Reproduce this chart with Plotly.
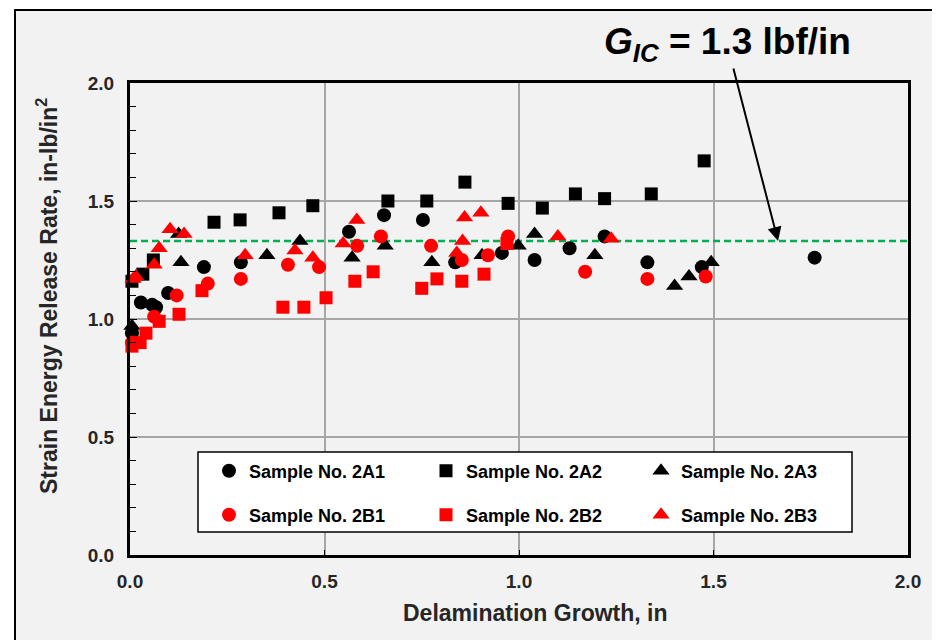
import plotly.graph_objects as go

# ---------------- data ----------------
x_2a1 = [0.005, 0.028, 0.057, 0.067, 0.098, 0.19, 0.285, 0.563, 0.653, 0.753, 0.836, 0.956, 1.04, 1.13, 1.22, 1.33, 1.47, 1.76]
y_2a1 = [0.94, 1.07, 1.06, 1.05, 1.11, 1.22, 1.24, 1.37, 1.44, 1.42, 1.24, 1.28, 1.25, 1.30, 1.35, 1.24, 1.22, 1.26]

x_2a2 = [0.005, 0.033, 0.06, 0.216, 0.283, 0.383, 0.47, 0.663, 0.763, 0.861, 0.972, 1.06, 1.145, 1.22, 1.34, 1.476]
y_2a2 = [1.16, 1.19, 1.25, 1.41, 1.42, 1.45, 1.48, 1.50, 1.50, 1.58, 1.49, 1.47, 1.53, 1.51, 1.53, 1.67]

x_2a3 = [0.005, 0.125, 0.131, 0.352, 0.437, 0.571, 0.656, 0.776, 0.905, 0.998, 1.04, 1.195, 1.40, 1.437, 1.494]
y_2a3 = [0.97, 1.36, 1.24, 1.27, 1.33, 1.26, 1.31, 1.24, 1.27, 1.31, 1.36, 1.27, 1.14, 1.18, 1.24]

x_2b1 = [0.005, 0.062, 0.12, 0.2, 0.285, 0.406, 0.486, 0.584, 0.645, 0.774, 0.853, 0.92, 0.972, 1.17, 1.33, 1.48]
y_2b1 = [0.90, 1.01, 1.10, 1.15, 1.17, 1.23, 1.22, 1.31, 1.35, 1.31, 1.25, 1.27, 1.35, 1.20, 1.17, 1.18]

x_2b2 = [0.005, 0.026, 0.041, 0.075, 0.126, 0.185, 0.393, 0.447, 0.504, 0.578, 0.625, 0.75, 0.789, 0.853, 0.91, 0.969]
y_2b2 = [0.885, 0.90, 0.94, 0.99, 1.02, 1.12, 1.05, 1.05, 1.09, 1.16, 1.20, 1.13, 1.17, 1.16, 1.19, 1.32]

x_2b3 = [0.008, 0.015, 0.062, 0.075, 0.103, 0.139, 0.296, 0.424, 0.47, 0.548, 0.583, 0.84, 0.855, 0.86, 0.902, 1.10, 1.237]
y_2b3 = [1.17, 1.18, 1.23, 1.30, 1.38, 1.36, 1.27, 1.29, 1.26, 1.32, 1.42, 1.28, 1.33, 1.43, 1.45, 1.35, 1.34]

gic_x = [0.0, 2.0]
gic_level = 1.33
gic_arrow_x = 1.666

series_names = ["Sample No. 2A1", "Sample No. 2A2", "Sample No. 2A3",
                "Sample No. 2B1", "Sample No. 2B2", "Sample No. 2B3"]
tick_vals = [0.0, 0.5, 1.0, 1.5, 2.0]

FONT = "Arial, Liberation Sans, sans-serif"
TXT = "#262626"

# the page adds an 8px body margin: work in screen pixels, convert to figure pixels
OFF = 8
W, H = 932, 632
L, R, T, B = 130 - OFF, 32, 83 - OFF, 85
pw, ph = W - L - R, H - T - B


def px_x(sx):
    return (sx - OFF - L) / pw


def px_y(sy):
    return (H - B - (sy - OFF)) / ph


fig = go.Figure()

fig.add_trace(go.Scatter(x=gic_x, y=[gic_level] * len(gic_x), mode="lines",
                         line=dict(color="#00b050", width=2.5, dash="7px,4px"),
                         showlegend=False, hoverinfo="skip"))

legend_ids = ["legend", "legend2", "legend3", "legend4", "legend5", "legend6"]
series = [
    (x_2a1, y_2a1, "circle", "black"),
    (x_2a2, y_2a2, "square", "black"),
    (x_2a3, y_2a3, "triangle-up", "black"),
    (x_2b1, y_2b1, "circle", "#ff0000"),
    (x_2b2, y_2b2, "square", "#ff0000"),
    (x_2b3, y_2b3, "triangle-up", "#ff0000"),
]
sizes = {"circle": 14, "square": 13, "triangle-up": 15}
for (xs, ys, sym, col), name, lg in zip(series, series_names, legend_ids):
    fig.add_trace(go.Scatter(x=xs, y=ys, mode="markers", name=name, legend=lg,
                             marker=dict(symbol=sym, color=col, size=sizes[sym],
                                         line=dict(width=0)),
                             cliponaxis=False))

shapes = [
    # outer frame
    dict(type="rect", xref="paper", yref="paper",
         x0=px_x(15), x1=px_x(937), y0=px_y(660), y1=px_y(10),
         fillcolor="#f2f2f2", line=dict(color="black", width=2), layer="below"),
    # legend box
    dict(type="rect", xref="paper", yref="paper",
         x0=px_x(198), x1=px_x(852), y0=px_y(532), y1=px_y(452),
         fillcolor="white", line=dict(color="black", width=1.5), layer="above"),
]

col_marker_x = [229, 446, 661]
row_y = [471, 515]
legend_layouts = {}
for i, lg in enumerate(legend_ids):
    cx = col_marker_x[i % 3]
    cy = row_y[i // 3]
    legend_layouts[lg] = dict(
        x=px_x(cx - 20), y=px_y(cy), xanchor="left", yanchor="middle",
        orientation="v", bgcolor="rgba(0,0,0,0)", borderwidth=0,
        itemwidth=30,
        font=dict(family=FONT, size=18, color="black", weight="bold"))

fig.update_layout(
    width=W, height=H,
    margin=dict(l=L, r=R, t=T, b=B),
    paper_bgcolor="white",
    plot_bgcolor="#f2f2f2",
    shapes=shapes,
    showlegend=True,
    **legend_layouts,
    xaxis=dict(range=[0, 2], tickvals=tick_vals, tickformat=".1f",
               showline=True, linecolor="black", linewidth=3, mirror=True,
               showgrid=True, gridcolor="#a6a6a6", gridwidth=1.5,
               ticks="inside", ticklen=5, tickcolor="black",
               zeroline=False, ticklabelstandoff=7,
               tickfont=dict(family=FONT, size=19, color=TXT, weight="bold")),
    yaxis=dict(range=[0, 2], tickvals=tick_vals, tickformat=".1f",
               showline=True, linecolor="black", linewidth=3, mirror=True,
               showgrid=True, gridcolor="#a6a6a6", gridwidth=1.5,
               ticks="inside", ticklen=7, tickcolor="black",
               minor=dict(dtick=0.1, ticks="inside", ticklen=6, tickcolor="black",
                          showgrid=False),
               zeroline=False, ticklabelstandoff=9,
               tickfont=dict(family=FONT, size=19, color=TXT, weight="bold")),
    annotations=[
        dict(x=gic_arrow_x, y=gic_level, xref="x", yref="y",
             text="<b><i>G</i><sub><i>IC</i></sub> = 1.3 lbf/in</b>",
             font=dict(family=FONT, size=37, color="black"),
             showarrow=True, ax=-51, ay=-197, axref="pixel", ayref="pixel",
             arrowhead=2, arrowsize=1.4, arrowwidth=2, arrowcolor="black"),
        dict(x=px_x(47), y=px_y(296), xref="paper", yref="paper",
             text="<b>Strain Energy Release Rate, in-lb/in<sup>2</sup></b>",
             textangle=-90, showarrow=False, xanchor="center", yanchor="middle",
             font=dict(family=FONT, size=23, color=TXT)),
        dict(x=px_x(535), y=px_y(613), xref="paper", yref="paper",
             text="<b>Delamination Growth, in</b>",
             showarrow=False, xanchor="center", yanchor="middle",
             font=dict(family=FONT, size=23, color=TXT)),
    ],
)

fig.write_html("out.html")
